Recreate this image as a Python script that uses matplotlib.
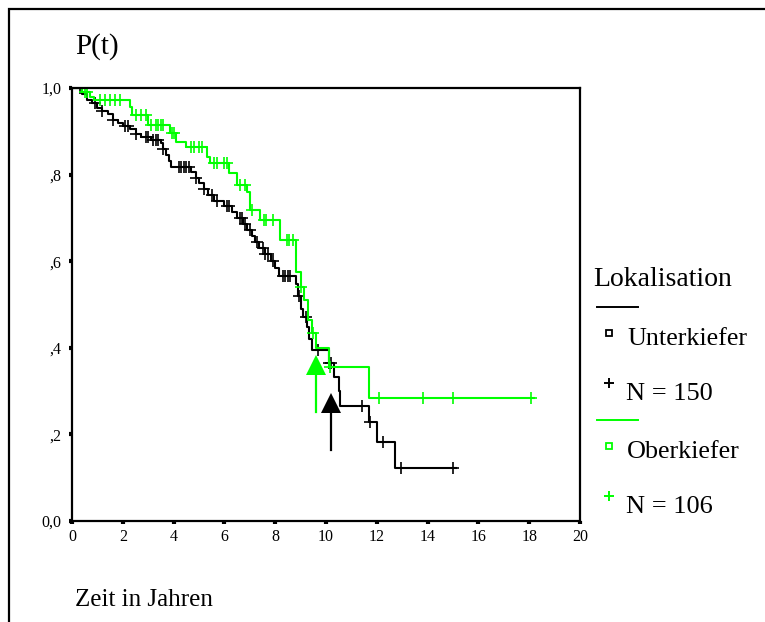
import matplotlib
matplotlib.use('Agg')
import matplotlib.pyplot as plt
from matplotlib.patches import Rectangle
from matplotlib.lines import Line2D
import numpy as np

plt.rcParams['font.family'] = ['Liberation Serif', 'DejaVu Serif']

GREEN = '#00ff00'
BLACK = '#000000'

# Unterkiefer (N = 150): event times and survival after each step
uk_times = [0.4, 0.6, 0.8, 1.0, 1.2, 1.4, 1.6, 1.8, 2.0, 2.3, 2.5, 2.7, 3.1, 3.5,
            3.6, 3.7, 3.8, 3.9, 4.7, 4.9, 5.0, 5.2, 5.35, 5.6, 6.0, 6.3, 6.5,
            6.75, 6.9, 7.1, 7.2, 7.35, 7.6, 7.85, 8.0, 8.15, 8.8, 8.9, 9.0, 9.1,
            9.25, 9.35, 9.45, 10.1, 10.3, 10.5, 10.55, 11.7, 12.0, 12.7]
uk_surv = [0.987, 0.973, 0.966, 0.953, 0.946, 0.94, 0.927, 0.92, 0.913, 0.906,
           0.893, 0.886, 0.879, 0.872, 0.858, 0.845, 0.832, 0.818, 0.806, 0.793,
           0.78, 0.766, 0.753, 0.74, 0.727, 0.713, 0.70, 0.686, 0.672, 0.658,
           0.644, 0.63, 0.616, 0.60, 0.584, 0.566, 0.548, 0.52, 0.49, 0.47,
           0.448, 0.42, 0.395, 0.365, 0.333, 0.30, 0.266, 0.229, 0.182, 0.122]
uk_end = 15.1
uk_cens = [0.3, 0.9, 1.2, 1.6, 2.1, 2.2, 2.5, 2.9, 3.0, 3.2, 3.3, 3.4, 3.6, 4.2,
           4.3, 4.4, 4.5, 4.6, 4.9, 5.2, 5.5, 5.7, 6.1, 6.2, 6.6, 6.7, 6.8, 7.0,
           7.3, 7.5, 7.6, 7.7, 7.9, 8.3, 8.4, 8.5, 8.6, 8.95, 9.2, 9.7, 10.1,
           10.2, 11.4, 11.75, 12.25, 12.95, 15.0]

# Oberkiefer (N = 106)
ok_times = [0.4, 0.7, 0.85, 2.3, 2.35, 3.0, 3.85, 4.1, 4.5, 5.3, 5.45, 6.2, 6.5,
            6.9, 7.0, 7.4, 8.2, 8.8, 9.0, 9.15, 9.3, 9.45, 9.6, 10.1, 11.7]
ok_surv = [0.99, 0.98, 0.972, 0.955, 0.938, 0.915, 0.896, 0.875, 0.864, 0.84,
           0.827, 0.804, 0.776, 0.76, 0.718, 0.695, 0.649, 0.575, 0.54, 0.51,
           0.464, 0.434, 0.40, 0.356, 0.284]
ok_end = 18.2
ok_cens = [0.5, 0.6, 1.1, 1.3, 1.5, 1.7, 1.9, 2.5, 2.7, 2.9, 3.1, 3.3, 3.4, 3.5,
           3.6, 3.95, 4.0, 4.7, 4.8, 5.0, 5.1, 5.6, 5.7, 6.0, 6.1, 6.6, 6.8, 7.1,
           7.55, 7.65, 7.9, 8.45, 8.55, 8.7, 9.0, 9.5, 10.15, 12.1, 13.8, 15.0,
           18.07]

# median markers (time, arrow tip, arrow tail)
ok_arrow = (9.6, 0.383, 0.252)
uk_arrow = (10.18, 0.295, 0.164)

xticks = [0, 2, 4, 6, 8, 10, 12, 14, 16, 18, 20]
yticks = [0.0, 0.2, 0.4, 0.6, 0.8, 1.0]
ylabels = ['0,0', ',2', ',4', ',6', ',8', '1,0']


def km_curve(times, surv, end):
    t = np.concatenate([[0.0], times, [end]])
    s = np.concatenate([[1.0], surv, [surv[-1]]])
    return t, s


def surv_at(times, surv, t):
    t_all = np.concatenate([[0.0], times])
    s_all = np.concatenate([[1.0], surv])
    idx = np.searchsorted(t_all, t, side='right') - 1
    return s_all[idx]


fig = plt.figure(figsize=(7.65, 6.22), dpi=100)
fig.patches.append(Rectangle((9 / 765, -0.05), 1.1, 1 - 9 / 622 + 0.05,
                             transform=fig.transFigure, fill=False,
                             edgecolor=BLACK, linewidth=1.6))

ax = fig.add_axes([72 / 765, 1 - 521 / 622, 508 / 765, 433 / 622])

for times, surv, end, cens, col in [(uk_times, uk_surv, uk_end, uk_cens, BLACK),
                                    (ok_times, ok_surv, ok_end, ok_cens, GREEN)]:
    t, s = km_curve(times, surv, end)
    ax.step(t, s, where='post', color=col, linewidth=1.5)
    ax.plot(cens, surv_at(times, surv, np.array(cens)), linestyle='none',
            marker='+', markersize=8, markeredgewidth=1.2, color=col)

for (tx, tip, tail), col in [(ok_arrow, GREEN), (uk_arrow, BLACK)]:
    ax.plot([tx, tx], [tail, tip - 0.03], color=col, linewidth=1.6)
    ax.plot([tx], [tip - 0.023], marker='^', markersize=14.5, color=col,
            markeredgewidth=0)

ax.set_xlim(0, 20)
ax.set_ylim(0, 1)
ax.set_xticks(xticks)
ax.set_xticklabels([str(v) for v in xticks])
ax.set_yticks(yticks)
ax.set_yticklabels(ylabels)
ax.tick_params(direction='out', length=2.5, width=3, labelsize=11.5, pad=3)
ax.tick_params(axis='y', pad=5)
for sp in ax.spines.values():
    sp.set_linewidth(1.6)

fig.text(75 / 765, 1 - 47 / 622, 'P(t)', fontsize=21, va='center', ha='left')
fig.text(75 / 765, 1 - 600 / 622, 'Zeit in Jahren', fontsize=18,
         va='center', ha='left')

# legend
fig.text(593 / 765, 1 - 279 / 622, 'Lokalisation', fontsize=20,
         va='center', ha='left')
for y_line, y_sq, y_plus, col, name, n in [
        (307, 333, 383, BLACK, 'Unterkiefer', 'N = 150'),
        (420, 446, 496, GREEN, 'Oberkiefer', 'N = 106')]:
    fig.add_artist(Line2D([597 / 765, 638 / 765], [1 - y_line / 622] * 2,
                          color=col, linewidth=1.4, transform=fig.transFigure))
    fig.add_artist(Line2D([609 / 765], [1 - y_sq / 622], marker='s',
                          markersize=5, markerfacecolor='white',
                          markeredgecolor=col, markeredgewidth=1.3,
                          linestyle='none', transform=fig.transFigure))
    fig.add_artist(Line2D([609 / 765], [1 - y_plus / 622], marker='+',
                          markersize=7.5, markeredgewidth=1.4, color=col,
                          linestyle='none', transform=fig.transFigure))
    fig.text(627 / 765, 1 - (y_sq + 6) / 622, name, fontsize=18.8,
             va='center', ha='left')
    fig.text(626 / 765, 1 - (y_plus + 11) / 622, n, fontsize=19,
             va='center', ha='left')

fig.savefig('out.png', dpi=100)
